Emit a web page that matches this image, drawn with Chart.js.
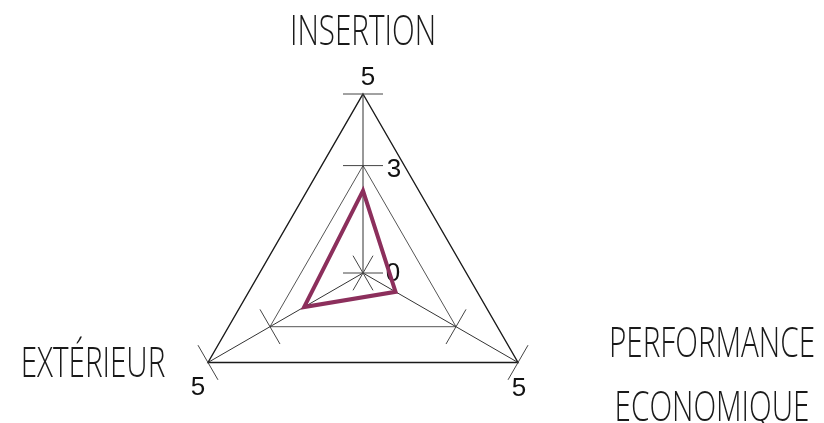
<!DOCTYPE html>
<html>
<head>
<meta charset="utf-8">
<script src="https://cdn.jsdelivr.net/npm/chart.js@4.4.1/dist/chart.umd.min.js"></script>
<style>
  body { margin: 0; background: #fff; }
  canvas { display: block; }
</style>
</head>
<body>
<canvas id="radar" width="824" height="423"></canvas>
<script>
var categories = ["INSERTION", ["PERFORMANCE", "ECONOMIQUE"], "EXTÉRIEUR"];
var scores = [2.3, 1.05, 1.9];
var gridValues = [0, 3, 5];
// which axis carries which tick label
var tickLabels = [
  { axis: 0, value: 5 },
  { axis: 0, value: 3 },
  { axis: 0, value: 0 },
  { axis: 1, value: 5 },
  { axis: 2, value: 5 }
];

// where each tick label / axis title sits around its anchor point
var tickShift = { "0-5": [5, -16], "0-3": [31, 4], "0-0": [30, 1], "1-5": [1, 26], "2-5": [-10, 25] };
var titleShift = [[0, -49], [194, -6], [-115, 14]];

var axisDecor = {
  id: "axisDecor",
  beforeDatasetsDraw: function(chart) {
    var scale = chart.scales.r;
    var ctx = chart.ctx;
    ctx.save();

    // little caps across every axis at each grid level
    ctx.strokeStyle = "#444";
    ctx.lineWidth = 1;
    for (var i = 0; i < categories.length; i++) {
      gridValues.forEach(function(v) {
        var p = scale.getPointPositionForValue(i, v);
        var a = p.angle + Math.PI / 2;
        ctx.beginPath();
        ctx.moveTo(p.x - Math.cos(a) * 20, p.y - Math.sin(a) * 20);
        ctx.lineTo(p.x + Math.cos(a) * 20, p.y + Math.sin(a) * 20);
        ctx.stroke();
      });
    }

    // tick numbers
    ctx.fillStyle = "#111";
    ctx.font = "26px 'Liberation Sans', Arial, sans-serif";
    ctx.textAlign = "center";
    ctx.textBaseline = "middle";
    tickLabels.forEach(function(t) {
      var p = scale.getPointPositionForValue(t.axis, t.value);
      var s = tickShift[t.axis + "-" + t.value];
      ctx.fillText(String(t.value), p.x + s[0], p.y + s[1]);
    });

    // axis titles, narrow light lettering
    ctx.font = "300 42px 'Open Sans', sans-serif";
    ctx.fillStyle = "#1a1a1a";
    ctx.textBaseline = "alphabetic";
    var squeeze = 146 / ctx.measureText("INSERTION").width;
    for (var j = 0; j < categories.length; j++) {
      var base = scale.getPointPosition(j, scale.drawingArea);
      var lines = [].concat(categories[j]);
      lines.forEach(function(line, k) {
        ctx.save();
        ctx.translate(base.x + titleShift[j][0], base.y + titleShift[j][1] + k * 64);
        ctx.scale(squeeze, 1);
        ctx.fillText(line, 0, 0);
        ctx.restore();
      });
    }
    ctx.restore();
  }
};

new Chart("radar", {
  type: "radar",
  data: {
    labels: categories,
    datasets: [{
      data: scores,
      borderColor: "#8c2f5c",
      borderWidth: 4,
      borderJoinStyle: "miter",
      backgroundColor: "transparent",
      fill: false,
      pointRadius: 0,
      pointHoverRadius: 0
    }]
  },
  options: {
    responsive: false,
    animation: false,
    devicePixelRatio: 1,
    layout: {
      padding: { left: 184, right: 282, top: 94, bottom: 0 }
    },
    plugins: {
      legend: { display: false },
      tooltip: { enabled: false }
    },
    scales: {
      r: {
        min: 0,
        max: 5,
        // radius follows the width; the triangle hangs below the middle
        afterFit: function(scale) {
          scale.drawingArea = scale.width / 2;
          scale.yCenter = scale.top + scale.drawingArea;
        },
        afterBuildTicks: function(scale) {
          scale.ticks = gridValues.map(function(v) { return { value: v }; });
        },
        ticks: { display: false },
        grid: {
          color: function(c) { return c.tick && c.tick.value === 5 ? "#1a1a1a" : "#555"; },
          lineWidth: function(c) { return c.tick && c.tick.value === 5 ? 1.4 : 1; }
        },
        angleLines: { color: "#333", lineWidth: 1 },
        pointLabels: { display: false }
      }
    }
  },
  plugins: [axisDecor]
});
</script>
</body>
</html>
